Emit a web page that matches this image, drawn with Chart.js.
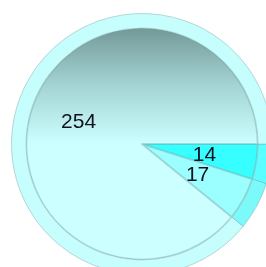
<!DOCTYPE html>
<html>
<head>
<meta charset="utf-8">
<script src="https://cdn.jsdelivr.net/npm/chart.js@4/dist/chart.umd.min.js"></script>
<style>
  html, body { margin: 0; padding: 0; background: #fff; }
  #wrap { width: 266px; height: 267px; overflow: hidden; position: relative; }
  canvas { display: block; }
</style>
</head>
<body>
<div id="wrap"><canvas id="chart" width="284" height="288"></canvas></div>
<script>
// slice values, clockwise from 3 o'clock
const labels = ['A', 'B', 'C'];
const values = [14, 17, 254];
const innerColors = ['#38ffff', '#9cffff', '#ccffff'];
const ringColors = ['#5cffff', '#7cfafa', '#c6fefe'];

// dark-to-light vertical shade on the big slice
function innerFill(c) {
  if (c.dataIndex !== 2) return innerColors[c.dataIndex];
  const chart = c.chart;
  const a = chart.chartArea;
  if (!a) return innerColors[2];
  const cy = (a.top + a.bottom) / 2;
  const g = chart.ctx.createLinearGradient(0, a.top + 14, 0, cy);
  g.addColorStop(0, '#739896');
  g.addColorStop(0.5, '#a4d4d4');
  g.addColorStop(1, '#ccffff');
  return g;
}

// value labels at roughly half radius along each slice's middle angle
const valueLabels = {
  id: 'valueLabels',
  afterDatasetsDraw(chart) {
    const meta = chart.getDatasetMeta(1);
    const ctx = chart.ctx;
    ctx.save();
    ctx.font = '21px "Liberation Sans", Arial, sans-serif';
    ctx.fillStyle = '#111122';
    ctx.textAlign = 'center';
    ctx.textBaseline = 'middle';
    meta.data.forEach((arc, i) => {
      const p = arc.getProps(['x', 'y', 'startAngle', 'endAngle', 'outerRadius'], true);
      const mid = (p.startAngle + p.endAngle) / 2;
      const r = p.outerRadius * (i === 2 ? 0.58 : 0.545);
      ctx.fillText(String(values[i]), p.x + Math.cos(mid) * r, p.y + Math.sin(mid) * r + 1);
    });
    ctx.restore();
  }
};

new Chart(document.getElementById('chart'), {
  type: 'pie',
  data: {
    labels: labels,
    datasets: [
      { data: values, backgroundColor: ringColors, borderColor: 'rgba(120,165,165,0.45)', borderWidth: 1, weight: 1 },
      { data: values, backgroundColor: innerFill,
        borderColor: 'rgba(110,160,160,0.4)', borderWidth: 1, borderAlign: 'inner', weight: 8 }
    ]
  },
  options: {
    responsive: false,
    animation: false,
    devicePixelRatio: 1,
    rotation: 90,
    layout: { padding: { left: 11, top: 13, right: 11, bottom: 13 } },
    plugins: { legend: { display: false }, tooltip: { enabled: false } }
  },
  plugins: [valueLabels]
});
</script>
</body>
</html>
